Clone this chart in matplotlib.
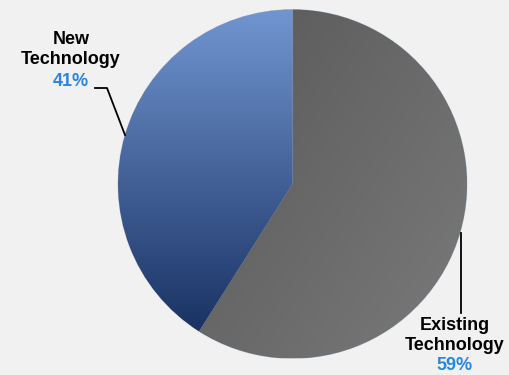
import numpy as np
import matplotlib.pyplot as plt
from matplotlib.colors import LinearSegmentedColormap

# data
labels = [['Existing', 'Technology'], ['New', 'Technology']]
shares = [59, 41]
pct_labels = ['59%', '41%']

W, H = 510, 375
fig = plt.figure(figsize=(W / 100, H / 100), dpi=100, facecolor='#f1f1f1')
ax = fig.add_axes([0, 0, 1, 1])
ax.set_facecolor('#f1f1f1')

cx, cy, r = 292.5, H - 184, 174.5
wedges, _ = ax.pie(shares, startangle=90, counterclock=False,
                   center=(cx, cy), radius=r, frame=True,
                   wedgeprops=dict(linewidth=0.6, edgecolor='#c8cfdc'))

# gradient fills clipped to the wedges
gray_cmap = LinearSegmentedColormap.from_list('g', ['#535353', '#7a7a7a'])
blue_cmap = LinearSegmentedColormap.from_list('b', ['#7195d1', '#1a3364'])
ny = 300
yy, xx = np.mgrid[0:1:complex(ny), 0:1:200j]
ext = [cx - r, cx + r, cy - r, cy + r]
ydata = (cy - r) + yy * 2 * r

im1 = ax.imshow((xx * 0.6 + (1 - yy) * 0.4), cmap=gray_cmap, extent=ext,
                origin='lower', zorder=2, aspect='auto')
im1.set_clip_path(wedges[0])

# blue: linear from wedge top (y=10px) to wedge bottom (y=330px)
top, bot = H - 10, H - 330
grad_b = np.clip((top - ydata) / (top - bot), 0, 1)
im2 = ax.imshow(grad_b, cmap=blue_cmap, extent=ext, origin='lower',
                zorder=2, aspect='auto')
im2.set_clip_path(wedges[1])

ax.set_xlim(0, W)
ax.set_ylim(0, H)
ax.axis('off')

# leader lines
ax.plot([95, 107, 125], [H - 88, H - 88, H - 135], color='black', lw=1.3, zorder=3)
ax.plot([461, 461], [H - 233, H - 313], color='black', lw=1.3, zorder=3)

font = dict(family='Liberation Sans', fontsize=13, fontweight='bold',
            ha='center', va='center')
ax.text(71, H - 40, labels[1][0], **font)
ax.text(71, H - 60, labels[1][1], **font)
ax.text(71, H - 81, pct_labels[1], color='#2a86dc', **font)
ax.text(455, H - 326, labels[0][0], **font)
ax.text(455, H - 346, labels[0][1], **font)
ax.text(455, H - 366, pct_labels[0], color='#2a86dc', **font)

fig.savefig('out.png', dpi=100, facecolor=fig.get_facecolor())
